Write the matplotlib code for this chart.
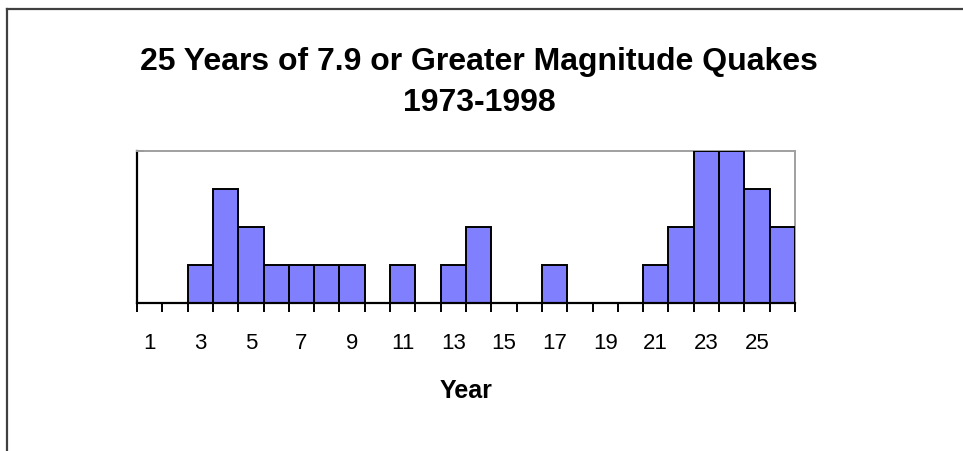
import matplotlib.pyplot as plt
from matplotlib.lines import Line2D
import numpy as np

# Count of 7.9+ magnitude quakes per year, 1973-1998
years = np.arange(1, 27)
quakes = [0, 0, 1, 3, 2, 1, 1, 1, 1, 0, 1, 0, 1, 2, 0, 0, 1, 0, 0, 0, 1, 2, 4, 4, 3, 2]
tick_years = list(range(1, 27, 2))

W, H = 963, 452
fig = plt.figure(figsize=(W / 100, H / 100), dpi=100)
plt.rcParams['font.family'] = ['Liberation Sans', 'DejaVu Sans']

# outer chart frame (top and left edges)
fig.add_artist(Line2D([7 / W, 1], [1 - 10 / H, 1 - 10 / H], transform=fig.transFigure,
                      color='#404040', lw=1.6))
fig.add_artist(Line2D([7 / W, 7 / W], [0, 1 - 10 / H], transform=fig.transFigure,
                      color='#404040', lw=1.6))

ax = fig.add_axes([137 / W, 1 - 304 / H, (795 - 137) / W, (304 - 152) / H])
ax.bar(years, quakes, width=1.0, color='#8080ff', edgecolor='black', linewidth=1.4, zorder=3)

ax.set_xlim(0.5, 26.5)
ax.set_ylim(0, 4)

for side in ('top', 'right'):
    ax.spines[side].set_color('#a0a0a0')
    ax.spines[side].set_linewidth(1.4)
for side in ('left', 'bottom'):
    ax.spines[side].set_color('black')
    ax.spines[side].set_linewidth(1.6)
ax.spines['bottom'].set_zorder(4)

ax.set_xticks(tick_years)
ax.set_xticklabels([str(y) for y in tick_years], fontsize=16)
ax.set_xticks(np.arange(0.5, 27, 1), minor=True)
ax.tick_params(axis='x', which='major', length=0, pad=21)
ax.tick_params(axis='x', which='minor', direction='out', length=6.5, width=1.4, color='black')

ax.set_yticks([4])
ax.set_yticklabels([])
ax.tick_params(axis='y', direction='in', length=5, width=1.4, color='black')

ax.set_xlabel('Year', fontsize=18, fontweight='bold', labelpad=18)

fig.text(479 / W, 1 - 62 / H, '25 Years of 7.9 or Greater Magnitude Quakes',
         ha='center', va='center', fontsize=23, fontweight='bold')
fig.text(479 / W, 1 - 103 / H, '1973-1998',
         ha='center', va='center', fontsize=23, fontweight='bold')

fig.savefig('out.png', dpi=100)
